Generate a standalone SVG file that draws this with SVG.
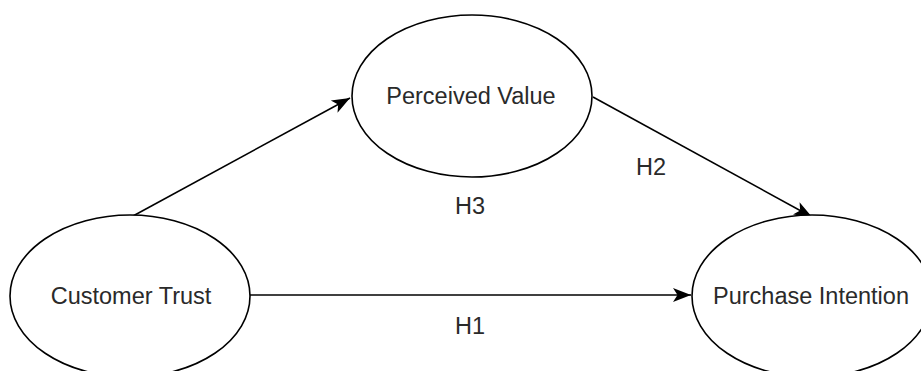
<svg xmlns="http://www.w3.org/2000/svg" width="921" height="371" viewBox="0 0 921 371">
<style>
.node ellipse{fill:#fff;stroke:#000;stroke-width:1.6}
text{font-family:"Liberation Sans",Arial,sans-serif;font-size:23.5px;fill:#2a2a2a;text-anchor:middle}
.edge{stroke:#000;stroke-width:1.6;fill:none;marker-end:url(#arr)}
</style>
<defs>
<marker id="arr" markerUnits="userSpaceOnUse" markerWidth="20" markerHeight="16" viewBox="0 0 20 16" refX="18" refY="8" orient="auto">
<path d="M0,1 L18,8 L0,15 L4.5,8 Z" fill="#000"/>
</marker>
</defs>
<rect width="921" height="371" fill="#fff"/>
<g id="connectors">
<path class="edge" d="M133,216 L350,98"/>
<path class="edge" d="M593,97 L812,217"/>
<path class="edge" d="M250,295 L691,295"/>
</g>
<g id="node-perceived-value" class="node">
<ellipse cx="472" cy="96" rx="120" ry="81"/>
<text x="471" y="104">Perceived Value</text>
</g>
<g id="node-customer-trust" class="node">
<ellipse cx="130" cy="296" rx="120" ry="81"/>
<text x="131" y="304">Customer Trust</text>
</g>
<g id="node-purchase-intention" class="node">
<ellipse cx="812" cy="296" rx="120" ry="81"/>
<text x="811" y="304">Purchase Intention</text>
</g>
<g id="labels">
<text x="470" y="214">H3</text>
<text x="651" y="175">H2</text>
<text x="470" y="334">H1</text>
</g>
</svg>
